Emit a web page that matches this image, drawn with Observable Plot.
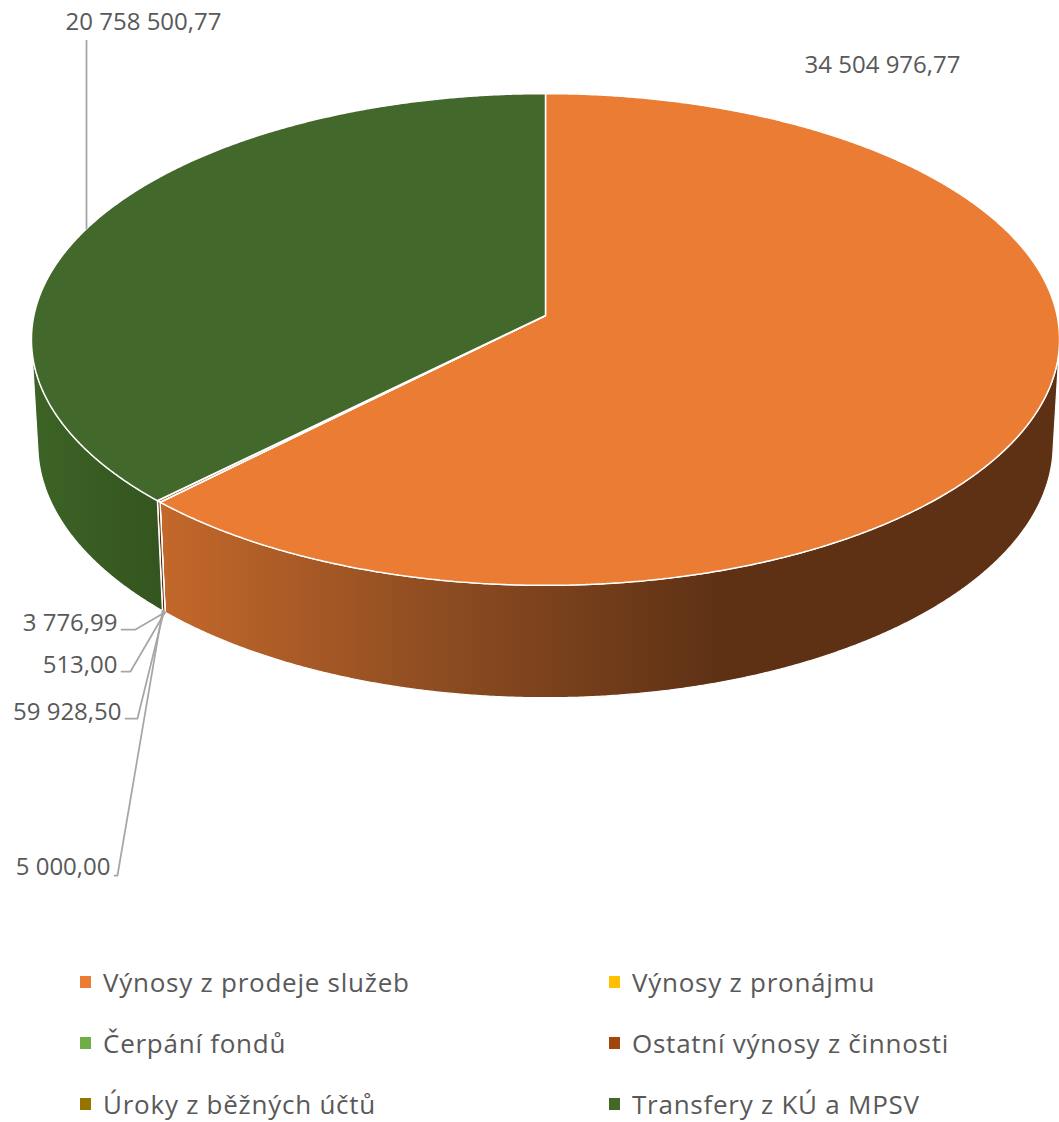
<!DOCTYPE html>
<html><head><meta charset="utf-8">
<script src="https://cdn.jsdelivr.net/npm/d3@7"></script>
<script src="https://cdn.jsdelivr.net/npm/@observablehq/plot@0.6"></script>
<style>
body{margin:0;background:#fff;font-family:"Open Sans",sans-serif;}
#chart svg{display:block;}
#legend{display:grid;grid-template-columns:529px 450px;grid-auto-rows:61px;padding:11px 0 0 80px;color:#595959;font-size:26px;letter-spacing:0.75px;}
.item{display:flex;align-items:center;white-space:nowrap;}
.sw{width:11px;height:12px;margin-right:12px;flex:none;}
</style></head><body>
<div id="chart"></div><div id="legend"></div>
<script>
// ---- data ----
const categories = ["Výnosy z prodeje služeb","Výnosy z pronájmu","Čerpání fondů","Ostatní výnosy z činnosti","Úroky z běžných účtů","Transfery z KÚ a MPSV"];
const values = [34504976.77, 3776.99, 513.00, 59928.50, 5000.00, 20758500.77];
const valueLabels = ["34 504 976,77","3 776,99","513,00","59 928,50","5 000,00","20 758 500,77"];
const topColors = ["#EA7D33","#FFC000","#70AD47","#9E480E","#997300","#43682B"];
const sideColors = ["url(#gOrange)","#9a7400","#456b2c","#5f2b08","#5c4500","url(#gGreen)"];

// ---- layout (perspective of the tilted disc) ----
const W = 1059, H = 940;
const P = {cx:545, cy:315, f:4612, D:9.015, sinA:0.476, h:0.236};
P.cosA = Math.sqrt(1 - P.sinA*P.sinA);
function proj(t, r, z){
  const X = r*Math.sin(t), Z = r*Math.cos(t);
  const den = P.D + Z*P.cosA + z*P.h*P.sinA;
  return [P.cx + P.f*X/den, P.cy - P.f*(Z*P.sinA - z*P.h*P.cosA)/den];
}
function arc(a0, a1, r, z){
  const n = Math.max(2, Math.ceil(Math.abs(a1-a0)/0.005));
  return d3.range(n+1).map(i => proj(a0 + (a1-a0)*i/n, r, z));
}
const slices = d3.pie().sort(null).value(d => d)(values);
const tMin = Math.acos(-1/(P.D*P.cosA)), tMax = 2*Math.PI - tMin;

const marks = [];
// gradient defs
marks.push(() => {
  const defs = d3.create("svg:defs");
  const g1 = defs.append("linearGradient").attr("id","gOrange").attr("gradientUnits","userSpaceOnUse")
    .attr("x1",160).attr("x2",720).attr("y1",0).attr("y2",0);
  [[0,"#C4682B"],[0.5,"#8D4C21"],[1,"#5E3115"]].forEach(([o,c]) => g1.append("stop").attr("offset",o).attr("stop-color",c));
  const g2 = defs.append("linearGradient").attr("id","gGreen").attr("gradientUnits","userSpaceOnUse")
    .attr("x1",30).attr("x2",160).attr("y1",0).attr("y2",0);
  [[0,"#3D6326"],[1,"#34551F"]].forEach(([o,c]) => g2.append("stop").attr("offset",o).attr("stop-color",c));
  return defs.node();
});
// side walls
slices.forEach((s, i) => {
  const a0 = Math.max(s.startAngle, tMin), a1 = Math.min(s.endAngle, tMax);
  if (a1 > a0) {
    const poly = arc(a0, a1, 1, 0).concat(arc(a1, a0, 1, 1));
    marks.push(Plot.line(poly, {x: d => d[0], y: d => d[1], fill: sideColors[i], stroke: "white", strokeWidth: 1.2, curve: "linear-closed"}));
  }
});
// top faces
slices.forEach((s, i) => {
  const poly = [proj(0,0,0)].concat(arc(s.startAngle, s.endAngle, 1, 0));
  marks.push(Plot.line(poly, {x: d => d[0], y: d => d[1], fill: topColors[i], stroke: "white", strokeWidth: 1.5, strokeLinejoin: "miter", curve: "linear-closed"}));
});

// ---- data labels ----
const labelLayout = [
  {i:0, x:882, y:65},
  {i:1, x:117, y:623, lineY:629, elbow:135},
  {i:2, x:117, y:665, lineY:671, elbow:130},
  {i:3, x:121, y:712, lineY:718, elbow:137},
  {i:4, x:110, y:867, lineY:875, elbow:117},
  {i:5, x:143, y:22, lineX:86, lineTop:40}
];
const leaders = [];
labelLayout.forEach(L => {
  const s = slices[L.i], mid = (s.startAngle + s.endAngle)/2;
  if (L.elbow !== undefined) {
    const a = proj(mid, 1, 1);
    leaders.push([[L.x + 4, L.lineY], [L.elbow, L.lineY], a]);
  } else if (L.lineX !== undefined) {
    let best = null;
    for (let t = s.startAngle; t <= s.endAngle; t += 0.0005) {
      if (Math.cos(t) <= 0) continue;
      const p = proj(t, 1, 0);
      if (!best || Math.abs(p[0] - L.lineX) < Math.abs(best[0] - L.lineX)) best = p;
    }
    leaders.push([[L.lineX, L.lineTop], [L.lineX, best[1]]]);
  }
});
leaders.forEach(pts => marks.push(Plot.line(pts, {x: d => d[0], y: d => d[1], stroke: "#A6A6A6", strokeWidth: 1.75})));
const txt = {text: d => valueLabels[d.i], x: "x", y: "y", fill: "#595959", fontSize: 24, fontFamily: "Open Sans"};
marks.push(Plot.text(labelLayout.filter(d => d.elbow === undefined), {...txt, textAnchor: "middle"}));
marks.push(Plot.text(labelLayout.filter(d => d.elbow !== undefined), {...txt, textAnchor: "end"}));

const chart = Plot.plot({
  width: W, height: H, margin: 0,
  x: {domain: [0, W], range: [0, W], axis: null},
  y: {domain: [0, H], range: [0, H], axis: null},
  style: {background: "white", overflow: "visible"},
  marks
});
document.getElementById("chart").appendChild(chart);

// ---- legend ----
const leg = d3.select("#legend");
categories.forEach((c, i) => {
  const it = leg.append("div").attr("class","item");
  it.append("span").attr("class","sw").style("background", topColors[i]);
  it.append("span").text(c);
});
</script>
</body></html>
